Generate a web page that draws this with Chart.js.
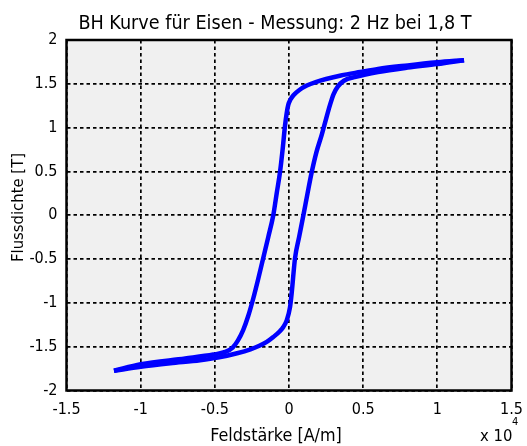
<!DOCTYPE html>
<html>
<head>
<meta charset="utf-8">
<script src="https://cdn.jsdelivr.net/npm/chart.js@4"></script>
<style>
  html, body { margin: 0; padding: 0; background: #ffffff; }
  #wrap { width: 527px; height: 446px; position: relative; }
</style>
</head>
<body>
<div id="wrap"><canvas id="c" width="527" height="446"></canvas></div>
<script>
// ---- data (H in A/m, B in T) ----
const descH = [11800, 10000, 8000, 6000, 4800, 3500, 2500, 1800, 1200, 700, 300, 100, -50, -160, -270, -430, -608, -830, -1060, -1400, -1740, -2080, -2410, -2750, -3090, -3450, -3800, -4300, -5100, -7000, -10000, -11800];
const descB = [1.77, 1.745, 1.71, 1.67, 1.635, 1.595, 1.555, 1.52, 1.48, 1.43, 1.37, 1.32, 1.26, 1.16, 1.02, 0.75, 0.49, 0.25, 0.0, -0.25, -0.49, -0.73, -0.95, -1.15, -1.31, -1.43, -1.51, -1.56, -1.59, -1.635, -1.70, -1.775];
const ascH = [-11800, -10000, -8000, -6000, -4800, -3500, -2600, -2000, -1500, -1060, -600, -385, -155, 68, 180, 405, 680, 970, 1250, 1530, 1850, 2210, 2500, 2750, 3000, 3300, 3700, 4500, 6000, 8000, 10000, 11800];
const ascB = [-1.775, -1.73, -1.69, -1.655, -1.625, -1.575, -1.53, -1.49, -1.445, -1.39, -1.32, -1.275, -1.20, -1.05, -0.89, -0.49, -0.25, 0.0, 0.25, 0.49, 0.72, 0.92, 1.10, 1.25, 1.38, 1.47, 1.535, 1.58, 1.635, 1.685, 1.725, 1.77];

const xTickValues = [-15000, -10000, -5000, 0, 5000, 10000, 15000];
const xTickLabels = ['-1.5', '-1', '-0.5', '0', '0.5', '1', '1.5'];
const yTickValues = [-2, -1.5, -1, -0.5, 0, 0.5, 1, 1.5, 2];
const yTickLabels = ['-2', '-1.5', '-1', '-0.5', '0', '0.5', '1', '1.5', '2'];

const titleText = 'BH Kurve für Eisen - Messung: 2 Hz bei 1,8 T';
const xTitle = 'Feldstärke [A/m]';
const yTitle = 'Flussdichte [T]';

const FONT = "'Liberation Sans Narrow', 'DejaVu Sans Condensed', 'Arial Narrow', sans-serif";

function toPts(hs, bs) { return hs.map((h, i) => ({ x: h, y: bs[i] })); }

const decor = {
  id: 'decor',
  beforeDraw(chart) {
    const { ctx, chartArea: a } = chart;
    ctx.save();
    ctx.fillStyle = '#f0f0f0';
    ctx.fillRect(a.left, a.top, a.right - a.left, a.bottom - a.top);
    ctx.restore();
  },
  afterDraw(chart) {
    const { ctx, chartArea: a } = chart;
    ctx.save();
    ctx.strokeStyle = '#000';
    ctx.lineWidth = 2.5;
    ctx.strokeRect(a.left, a.top, a.right - a.left, a.bottom - a.top);
    ctx.fillStyle = '#000';
    // title
    ctx.font = '19.6px ' + FONT;
    ctx.textAlign = 'center';
    ctx.textBaseline = 'middle';
    ctx.fillText(titleText, 275, 23.5);
    // x title
    ctx.font = '17.8px ' + FONT;
    ctx.fillText(xTitle, 276, 436);
    // multiplier
    ctx.textAlign = 'left';
    ctx.font = '16.5px ' + FONT;
    ctx.fillText('x 10', 480, 437);
    ctx.font = '11px ' + FONT;
    ctx.fillText('4', 512, 422);
    // y title
    ctx.font = '16.5px ' + FONT;
    ctx.translate(18.5, 207.5);
    ctx.rotate(-Math.PI / 2);
    ctx.textAlign = 'center';
    ctx.fillText(yTitle, 0, 0);
    ctx.restore();
  }
};

const lineStyle = {
  borderColor: '#0000ff',
  backgroundColor: '#0000ff',
  borderWidth: 4.5,
  pointRadius: 0,
  showLine: true,
  fill: false,
  cubicInterpolationMode: 'monotone',
  borderCapStyle: 'butt',
  borderJoinStyle: 'round'
};

new Chart(document.getElementById('c'), {
  type: 'scatter',
  data: {
    datasets: [
      Object.assign({ label: 'absteigend', data: toPts(descH, descB) }, lineStyle),
      Object.assign({ label: 'aufsteigend', data: toPts(ascH, ascB) }, lineStyle)
    ]
  },
  options: {
    responsive: false,
    animation: false,
    events: [],
    layout: { padding: { top: 40, right: 15.5, left: 0, bottom: 0 } },
    plugins: { legend: { display: false }, tooltip: { enabled: false }, title: { display: false } },
    scales: {
      x: {
        type: 'linear',
        min: -15000, max: 15000,
        afterFit(s) { s.height = 55.5; s.paddingLeft = 0; s.paddingRight = 0; },
        afterBuildTicks(s) { s.ticks = xTickValues.map(v => ({ value: v })); },
        ticks: {
          color: '#000',
          font: { family: FONT, size: 16 },
          padding: 10,
          maxRotation: 0,
          autoSkip: false,
          callback: (v) => { const i = xTickValues.indexOf(v); return i >= 0 ? xTickLabels[i] : ''; }
        },
        grid: { color: '#000', lineWidth: 1.7, drawTicks: false },
        border: { display: false, dash: [3.5, 3] }
      },
      y: {
        type: 'linear',
        min: -2, max: 2,
        afterFit(s) { s.width = 66.5; s.paddingTop = 0; s.paddingBottom = 0; },
        afterBuildTicks(s) { s.ticks = yTickValues.map(v => ({ value: v })); },
        ticks: {
          color: '#000',
          font: { family: FONT, size: 16 },
          padding: 9,
          autoSkip: false,
          callback: (v) => { const i = yTickValues.indexOf(v); return i >= 0 ? yTickLabels[i] : ''; }
        },
        grid: { color: '#000', lineWidth: 1.7, drawTicks: false },
        border: { display: false, dash: [3.5, 3] }
      }
    }
  },
  plugins: [decor]
});
</script>
</body>
</html>
